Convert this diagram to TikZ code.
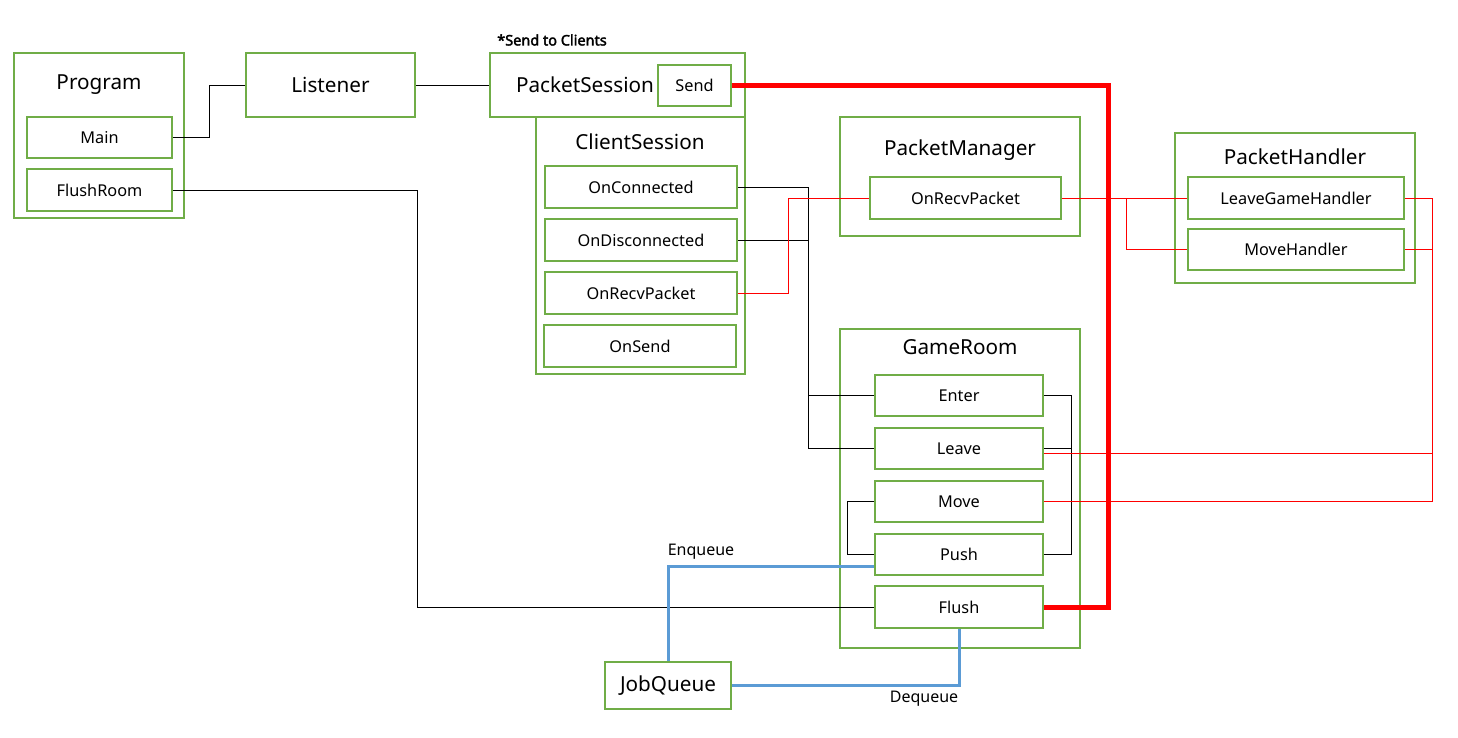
\documentclass[tikz,border=0pt]{standalone}
\usepackage{fontspec}
\setmainfont{Noto Sans}
\newfontfamily\boldlbl[FakeBold=2.5]{Noto Sans}
\usetikzlibrary{calc}
\definecolor{boxgreen}{HTML}{70AD47}
\definecolor{lineblue}{HTML}{5B9BD5}
\definecolor{linered}{HTML}{FF0000}
\begin{document}
\begin{tikzpicture}[x=1pt,y=-1pt,
  box/.style={draw=boxgreen,line width=2pt,rectangle,inner sep=0pt,font=\fontsize{16.3}{19}\selectfont},
  title/.style={font=\fontsize{20.7}{24}\selectfont,inner sep=0pt},
  small/.style={font=\fontsize{16}{19}\selectfont,inner sep=0pt},
  blk/.style={draw=black,line width=0.9pt},
  red/.style={draw=linered,line width=0.9pt},
  thickred/.style={draw=linered,line width=5pt},
  blue/.style={draw=lineblue,line width=3pt}]
\useasboundingbox (0,0) rectangle (1458,738);
\fill[white] (0,0) rectangle (1458,738);
% containers
\node[box,minimum width=170,minimum height=165] (prog) at (99,135.5) {};
\node[title] (progt) at (99,85) {Program};
\node[box,minimum width=145,minimum height=41] (main) at (99.5,137.5) {Main};
\node[box,minimum width=145,minimum height=42] (flushroom) at (99.5,190) {FlushRoom};
\node[box,minimum width=169,minimum height=64,font=\fontsize{20.7}{24}\selectfont] (listener) at (330.5,85) {Listener};
\node[box,minimum width=255,minimum height=64] (psess) at (617.5,85) {};
\node[title] (psesst) at (585,85) {PacketSession};
\node[box,minimum width=73,minimum height=41] (send) at (694.5,85.5) {Send};
\node[font=\boldlbl\fontsize{14.5}{17}\selectfont,inner sep=0pt] (sendlbl) at (552,40) {*Send to Clients};
\node[box,minimum width=209,minimum height=257] (csess) at (640.5,245.5) {};
\node[title] (csesst) at (640,142) {ClientSession};
\node[box,minimum width=192,minimum height=42] (onconn) at (641,187) {OnConnected};
\node[box,minimum width=192,minimum height=42] (ondisc) at (641,240) {OnDisconnected};
\node[box,minimum width=192,minimum height=42] (onrecv) at (641,293) {OnRecvPacket};
\node[box,minimum width=192,minimum height=42] (onsend) at (640,346) {OnSend};
\node[box,minimum width=240,minimum height=119] (pmgr) at (960,176.5) {};
\node[title] (pmgrt) at (960,150) {PacketManager};
\node[box,minimum width=191,minimum height=42] (pmrecv) at (965.5,198) {OnRecvPacket};
\node[box,minimum width=240,minimum height=150] (phand) at (1295,208) {};
\node[title] (phandt) at (1295,157) {PacketHandler};
\node[box,minimum width=216,minimum height=42] (leavegh) at (1296,198) {LeaveGameHandler};
\node[box,minimum width=216,minimum height=41] (moveh) at (1296,249.5) {MoveHandler};
\node[box,minimum width=240,minimum height=319] (groom) at (960,488.5) {};
\node[title] (groomt) at (960,347) {GameRoom};
\node[box,minimum width=168,minimum height=41] (enter) at (959,395.5) {Enter};
\node[box,minimum width=168,minimum height=41] (leave) at (959,448.5) {Leave};
\node[box,minimum width=168,minimum height=41] (move) at (959,501.5) {Move};
\node[box,minimum width=168,minimum height=41] (push) at (959,554.5) {Push};
\node[box,minimum width=168,minimum height=42] (flush) at (959,607) {Flush};
\node[box,minimum width=126,minimum height=47,font=\fontsize{20.7}{24}\selectfont] (jobq) at (668,685.5) {JobQueue};
% black connectors
\draw[blk] (main.east) -- ++(36,0) |- (listener.west);
\draw[blk] (listener.east) -- (psess.west);
\draw[blk] (flushroom.east) -- ++(244,0) |- (flush.west);
\draw[blk] (onconn.east) -- ++(70,0) |- (enter.west);
\draw[blk] (ondisc.east) -- ++(70,0) |- (leave.west);
\draw[blk] (enter.east) -- ++(27,0) |- (push.east);
\draw[blk] (leave.east) -- ++(27,0);
\draw[blk] (move.west) -- ++(-27,0) |- (push.west);
% red connectors
\draw[red] (onrecv.east) -- ++(50,0) |- (pmrecv.west);
\draw[red] (pmrecv.east) -- (leavegh.west);
\draw[red] (pmrecv.east) -- ++(64,0) |- (moveh.west);
\draw[red] (leavegh.east) -- ++(27,0) |- ($(leave.east)+(0,5)$);
\draw[red] (moveh.east) -- ++(27,0) |- (move.east);
\draw[thickred] (send.east) -- ++(376,0) |- (flush.east);
% blue connectors
\draw[blue] ($(push.west)+(0,12)$) -| (jobq.north);
\draw[blue] (flush.south) |- (jobq.east);
\node[small] (enq) at (701,552) {Enqueue};
\node[small] (deq) at (924,699) {Dequeue};
\end{tikzpicture}
\end{document}
